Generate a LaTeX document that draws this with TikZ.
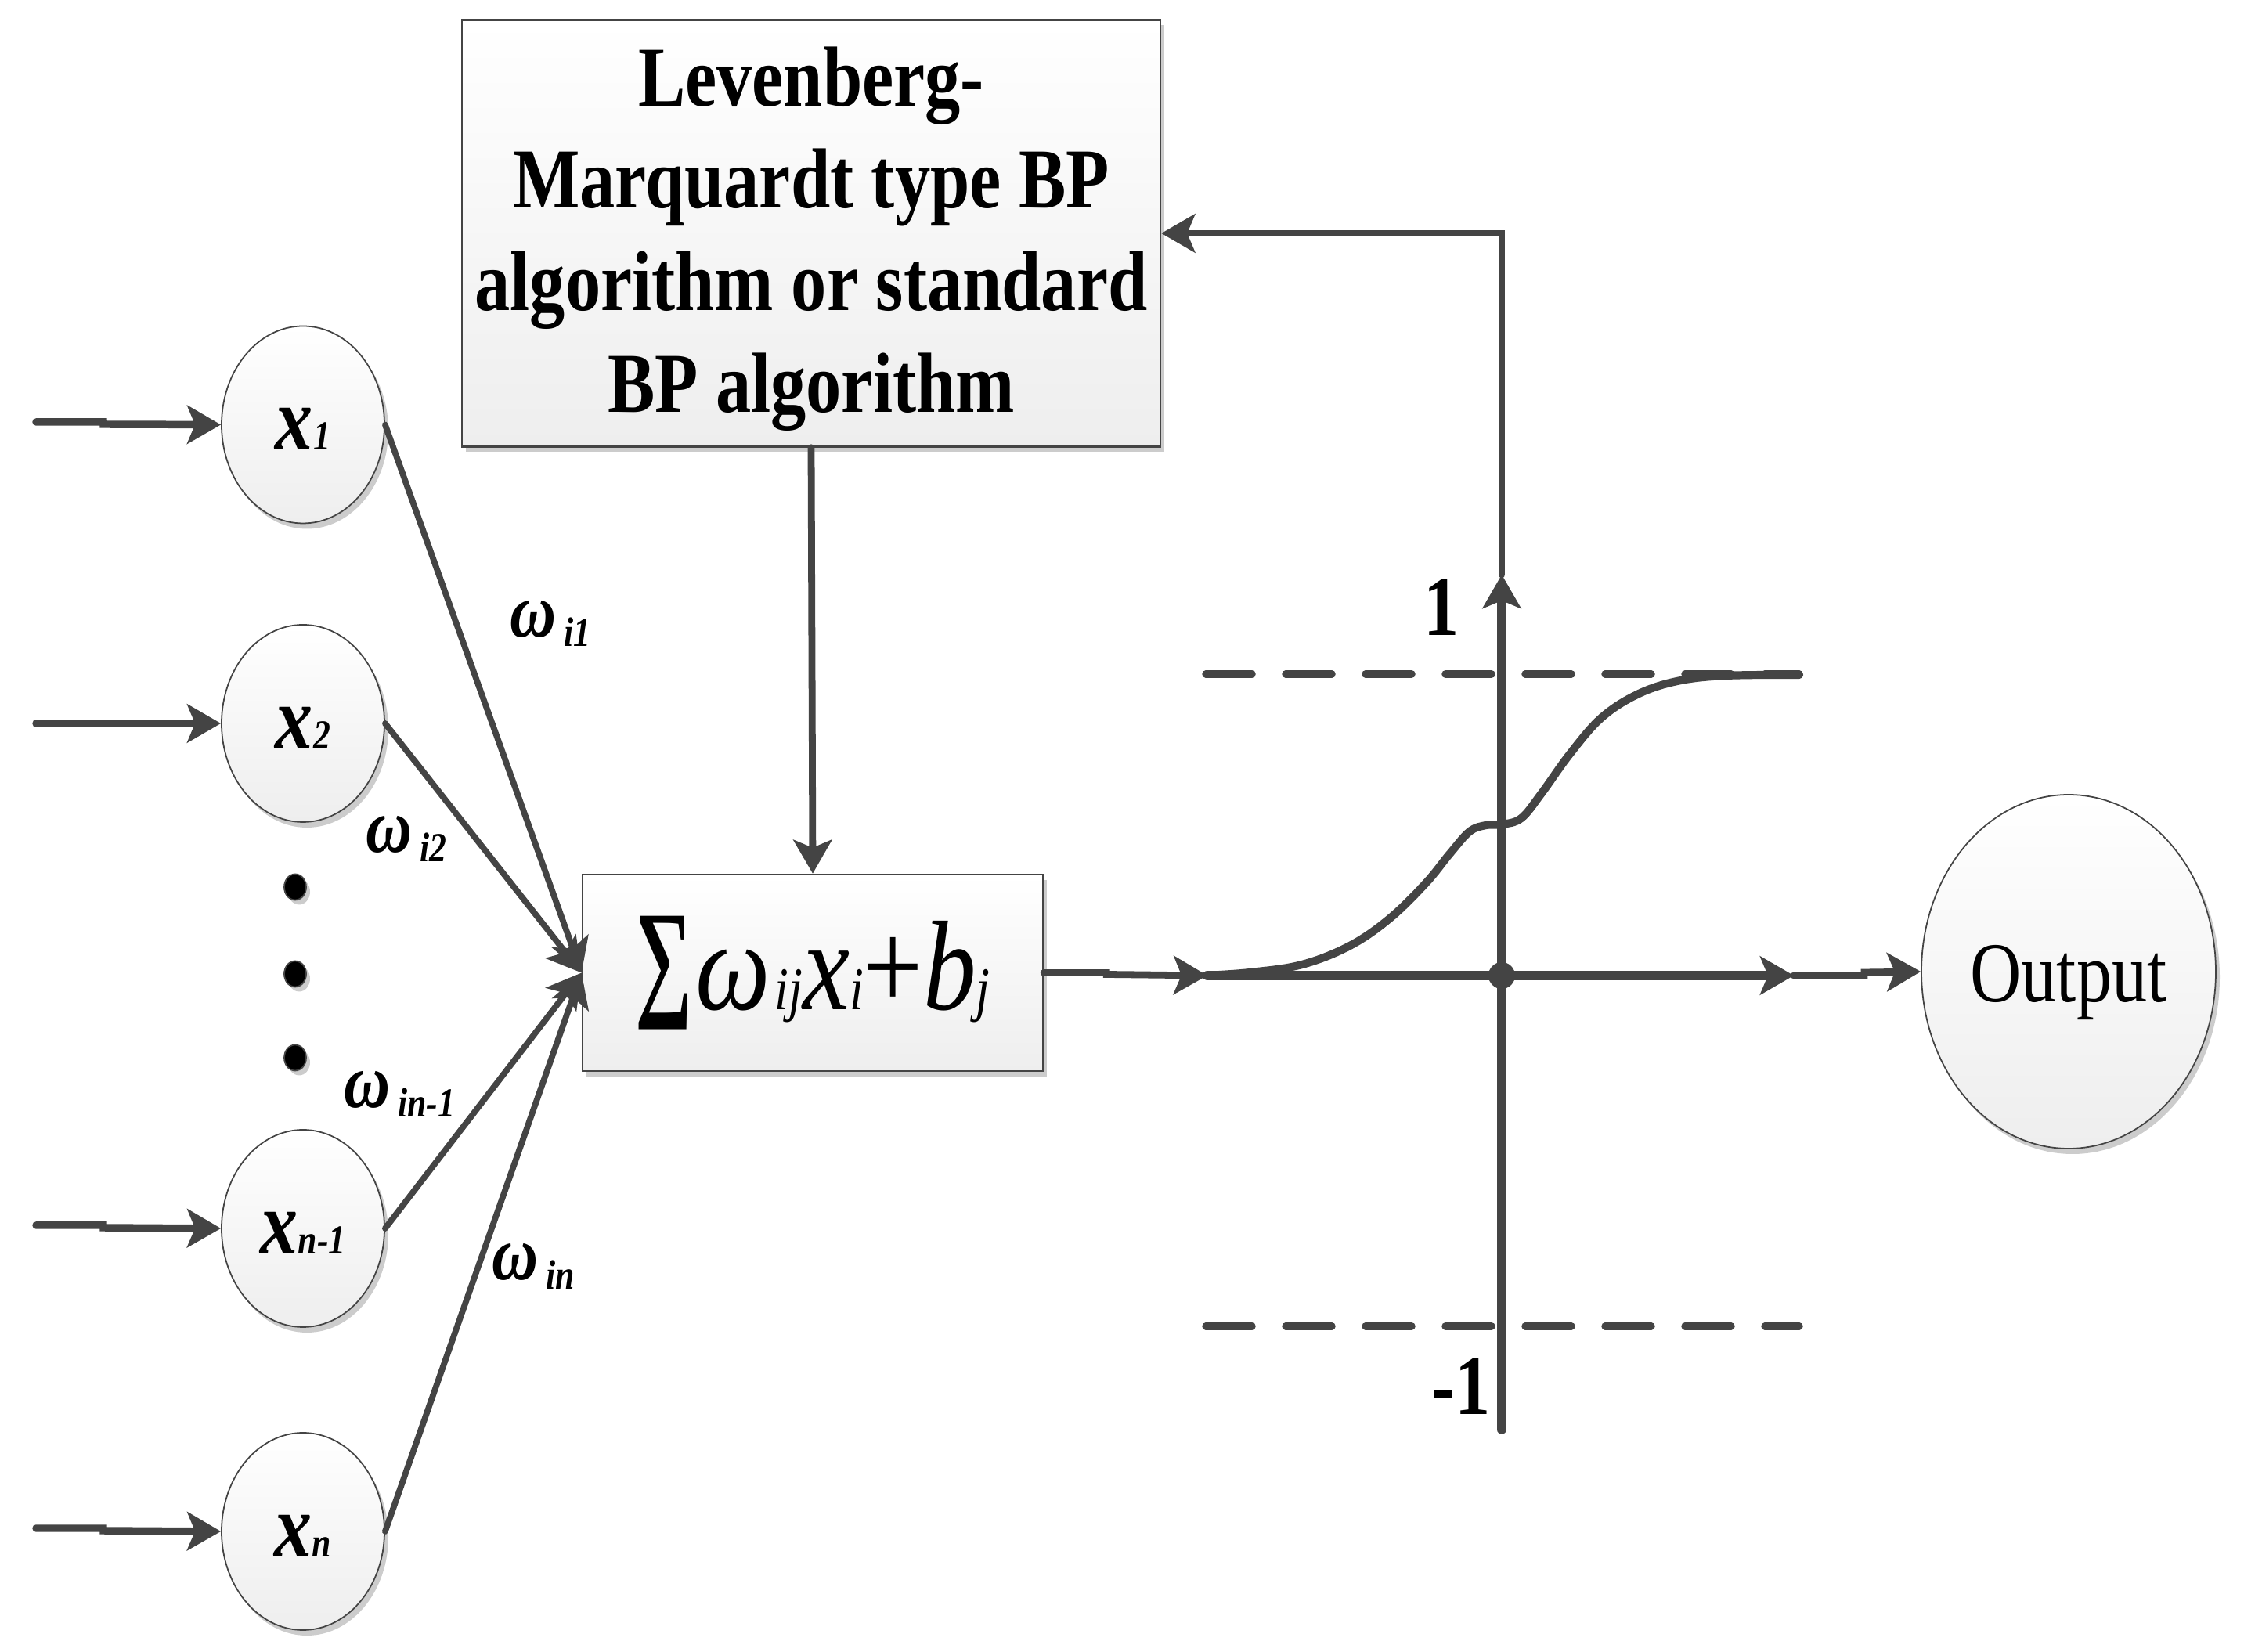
\documentclass[tikz,border=0pt]{standalone}
\usepackage{fontspec}
\usepackage{graphicx}
\setmainfont{Liberation Serif}
\newfontfamily\narrowfont[FakeStretch=0.83]{Liberation Serif}
\usetikzlibrary{arrows.meta, shapes.geometric, shadows}
\definecolor{mygray}{RGB}{68, 68, 68}
\definecolor{mygray2}{RGB}{204, 204, 204}
\definecolor{mygray3}{RGB}{238, 238, 238}
\tikzset{>={Stealth[length=4.3mm, width=4.9mm, inset=1mm]}}
\tikzset{
  shaded base/.style = {draw = mygray, top color = white, bottom color = mygray3,
    general shadow = {shadow xshift = 0.05cm, shadow yshift = -0.07cm, fill = mygray2}},
  inputcirc/.style = {shaded base, ellipse, inner sep = 0pt, line width = 0.5pt,
    minimum width = 2.08cm, minimum height = 2.52cm, text height = 0.65cm, text depth = 0pt},
  dotnode/.style = {ellipse, draw = mygray, line width = 0.5pt, fill = black, inner sep = 0pt,
    minimum width = 0.28cm, minimum height = 0.33cm,
    general shadow = {shadow xshift = 0.05cm, shadow yshift = -0.06cm, fill = mygray2}},
  conn/.style = {draw = mygray, line width = 2.5pt, line cap = round},
  inconn/.style = {conn, line width = 2.7pt},
  weightconn/.style = {conn, line width = 2.2pt},
  axisconn/.style = {conn, line width = 3.3pt},
  dashline/.style = {conn, line width = 2.7pt, dash pattern = on 5.9mm off 4.3mm},
  bigtext/.style = {font = \fontsize{31}{37.1}\selectfont}
}
\newcommand{\inlab}[1]{{\narrowfont\bfseries\itshape\fontsize{33}{33}\selectfont x\fontsize{15}{15}\selectfont #1}}
\newcommand{\wlab}[1]{{\narrowfont\bfseries\itshape\fontsize{28}{28}\selectfont ω\hspace{1mm}\raisebox{-1.2mm}{\fontsize{15}{15}\selectfont #1}}}
\begin{document}
\begin{tikzpicture}
\useasboundingbox (0,0) rectangle (28.66,21.10);
% boxes
\node[shaded base, line width = 0.7pt, minimum width = 8.92cm, minimum height = 5.45cm, align = center, bigtext] (topbox) at (10.36, 18.12)
  {\rule{0pt}{0.83em}\narrowfont\bfseries Levenberg-\\ \narrowfont\bfseries Marquardt type BP\\ \narrowfont\bfseries algorithm or standard\\ \narrowfont\bfseries BP algorithm};
\node[shaded base, line width = 0.7pt, minimum width = 5.88cm, minimum height = 2.51cm, inner sep = 0pt] (sumbox) at (10.38, 8.675)
  {{\fontsize{50}{50}\selectfont\bfseries\scalebox{0.58}[0.95]{∑}}\hspace{0.5mm}\raisebox{-1mm}{\narrowfont\fontsize{46.4}{50}\selectfont\itshape ω\hspace{0.5mm}{\fontsize{22}{22}\selectfont ij}x{\fontsize{22}{22}\selectfont i}{\upshape +}b{\fontsize{22}{22}\selectfont j}}};
% inputs
\node[inputcirc] (x1) at (3.87, 15.675) {\inlab{1}};
\node[inputcirc] (x2) at (3.87, 11.86) {\inlab{2}};
\node[inputcirc] (xn1) at (3.87, 5.41) {\inlab{n-1}};
\node[inputcirc] (xn) at (3.87, 1.54) {\inlab{n}};
\node[shaded base, ellipse, line width = 0.5pt, inner sep = 0pt, minimum width = 3.76cm, minimum height = 4.52cm, text height = 0.78cm, text depth = 0pt, font = \fontsize{31}{31}\selectfont] (output) at (26.42, 8.69) {\narrowfont Output};
\coordinate (in1) at (0.46, 15.71);
\coordinate (in2) at (0.46, 11.86);
\coordinate (in3) at (0.46, 5.45);
\coordinate (in4) at (0.46, 1.58);
\draw[inconn, ->] (in1) -- ++(0.86, 0) -- ++(0, -0.03) -- (x1.west);
\draw[inconn, ->] (in2) -- (x2.west);
\draw[inconn, ->] (in3) -- ++(0.86, 0) -- ++(0, -0.03) -- (xn1.west);
\draw[inconn, ->] (in4) -- ++(0.86, 0) -- ++(0, -0.03) -- (xn.west);
% weights
\draw[weightconn, ->] (x1.east) -- (sumbox.west);
\draw[weightconn, ->] (x2.east) -- (sumbox.west);
\draw[weightconn, ->] (xn1.east) -- (sumbox.west);
\draw[weightconn, ->] (xn.east) -- (sumbox.west);
\node (w1) at (7.03, 13.14) {\wlab{i1}};
\node (w2) at (5.19, 10.39) {\wlab{i2}};
\node (w3) at (5.10, 7.13) {\wlab{in-1}};
\node (w4) at (6.81, 4.93) {\wlab{in}};
\node[dotnode] (dot1) at (3.77, 9.77) {};
\node[dotnode] (dot2) at (3.77, 8.66) {};
\node[dotnode] (dot3) at (3.77, 7.59) {};
% axes
\coordinate (xleft) at (15.42, 8.64);
\coordinate (xright) at (22.91, 8.64);
\coordinate (origin) at (19.18, 8.64);
\coordinate (ybot) at (19.18, 2.84);
\coordinate (ytop) at (19.18, 13.76);
\draw[axisconn, ->] (xleft) -- (xright);
\draw[axisconn, ->] (ybot) -- (ytop);
\fill[mygray] (origin) circle (0.17);
\draw[conn, ->] (sumbox.east) -- ++(0.8, 0) -- ++(0, -0.02) -- (xleft);
\draw[conn, ->] (xright) -- ++(0.9, 0) -- ++(0, 0.04) -- (output.west);
\draw[conn, ->] (topbox.south) -- (sumbox.north);
\draw[conn, ->] (ytop) |- (topbox.east);
% saturation levels and curve
\coordinate (d1) at (15.40, 12.49);
\coordinate (d2) at (22.98, 12.49);
\coordinate (d3) at (15.40, 4.16);
\coordinate (d4) at (22.98, 4.16);
\draw[dashline] (d1) -- (d2);
\draw[dashline] (d3) -- (d4);
\draw[conn, line width = 2.9pt] plot [smooth, tension = 0.6] coordinates{(15.40, 8.64) (15.97, 8.68) (16.63, 8.78) (17.24, 9.02) (17.75, 9.37) (18.21, 9.82) (18.52, 10.20) (18.77, 10.48) (18.98, 10.56) (19.18, 10.57) (19.43, 10.65) (19.69, 10.97) (20.05, 11.47) (20.45, 11.93) (20.91, 12.23) (21.42, 12.40) (22.04, 12.47) (22.98, 12.48)};
\node[font = \fontsize{31}{31}\selectfont\bfseries] (one) at (18.41, 13.34) {\narrowfont 1};
\node[font = \fontsize{31}{31}\selectfont\bfseries] (minusone) at (18.66, 3.39) {\narrowfont -1};
\end{tikzpicture}
\end{document}
